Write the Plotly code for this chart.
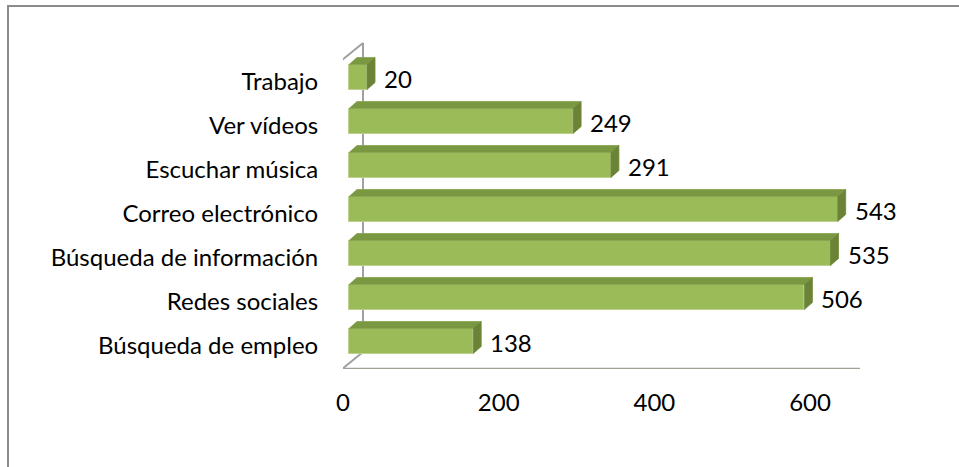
import plotly.graph_objects as go

# ---- data ----
categories = ["Búsqueda de empleo", "Redes sociales", "Búsqueda de información",
              "Correo electrónico", "Escuchar música", "Ver vídeos", "Trabajo"]
values = [138, 506, 535, 543, 291, 249, 20]
tick_values = [0, 200, 400, 600]
tick_labels = ["0", "200", "400", "600"]

# ---- geometry (pixels) ----
W, H = 959, 467
L, R, T, B = 343, 59, 30, 98
PW = W - L - R
PH = H - T - B

X_PX_PER = (810 - 343) / 600.0          # front-plane axis scale
BAR_PX_PER = 0.9                         # bar-plane scale (perspective)
BAR_X0 = 349
ROW = 44.0
Y0_PX = 346.0

x_range = [0, PW / X_PX_PER]
x2_start = -(BAR_X0 - L) / BAR_PX_PER
x2_range = [x2_start, x2_start + PW / BAR_PX_PER]
y_range = [(Y0_PX - (H - B)) / ROW, (Y0_PX - T) / ROW]


def xp(px):
    return (px - L) / X_PX_PER


def yp(py):
    return (Y0_PX - py) / ROW


def paper_x(px):
    return (px - L) / PW


def paper_y(py):
    return (H - B - py) / PH


FONT = "Lato"
FS = 24

bar_off = 5 / ROW
bar_w = 25 / ROW
dxu = 8 / BAR_PX_PER
dyu = 7 / ROW

pos = list(range(len(categories)))
ybar = [p + bar_off for p in pos]

fig = go.Figure()

fig.add_trace(go.Bar(
    x=values, y=ybar, orientation="h", width=bar_w,
    xaxis="x2", yaxis="y",
    marker=dict(color="#9BBB59", line=dict(color="#BDD08F", width=1)),
    hoverinfo="skip", showlegend=False,
))

top_x, top_y, side_x, side_y = [], [], [], []
for v, yc in zip(values, ybar):
    yt = yc + bar_w / 2
    yb = yc - bar_w / 2
    top_x += [0, v, v + dxu, dxu, 0, None]
    top_y += [yt, yt, yt + dyu, yt + dyu, yt, None]
    side_x += [v, v, v + dxu, v + dxu, v, None]
    side_y += [yb, yt, yt + dyu, yb + dyu, yb, None]

fig.add_trace(go.Scatter(x=top_x, y=top_y, xaxis="x2", yaxis="y", mode="lines",
                         fill="toself", fillcolor="#7A9842",
                         line=dict(color="#86A24E", width=0.8),
                         hoverinfo="skip", showlegend=False))
fig.add_trace(go.Scatter(x=side_x, y=side_y, xaxis="x2", yaxis="y", mode="lines",
                         fill="toself", fillcolor="#6A8336",
                         line=dict(color="#6F8939", width=0.8),
                         hoverinfo="skip", showlegend=False))

annotations = []
for v, yc in zip(values, ybar):
    annotations.append(dict(
        x=v, y=yc - 1.5 / ROW, xref="x2", yref="y", text=str(v),
        showarrow=False, xanchor="left", yanchor="middle", xshift=15,
        font=dict(family=FONT, size=FS, color="#000000"),
    ))

wall = "#A0A0A0"
shapes = [
    # outer chart border
    dict(type="path", xref="paper", yref="paper",
         path=f"M {paper_x(8)},{paper_y(470)} L {paper_x(8)},{paper_y(6)} L {paper_x(962)},{paper_y(6)}",
         line=dict(color="#8C8C8C", width=2)),
    # front-left wall edge
    dict(type="line", xref="x", yref="y", x0=xp(342), x1=xp(342), y0=yp(369), y1=yp(60),
         line=dict(color=wall, width=2), layer="below"),
    # back wall edge
    dict(type="line", xref="x", yref="y", x0=xp(363), x1=xp(363), y0=yp(352), y1=yp(43),
         line=dict(color=wall, width=2), layer="below"),
    # top diagonal
    dict(type="line", xref="x", yref="y", x0=xp(342), x1=xp(363), y0=yp(60), y1=yp(43),
         line=dict(color=wall, width=2), layer="below"),
    # bottom diagonal
    dict(type="line", xref="x", yref="y", x0=xp(342), x1=xp(363), y0=yp(369), y1=yp(352),
         line=dict(color=wall, width=2), layer="below"),
    # floor front edge
    dict(type="line", xref="x", yref="y", x0=xp(342), x1=xp(860), y0=yp(369), y1=yp(369),
         line=dict(color="#A0A296", width=2.5), layer="below"),
]

fig.update_layout(
    width=W, height=H,
    margin=dict(l=L, r=R, t=T, b=B, pad=0),
    paper_bgcolor="white", plot_bgcolor="white",
    bargap=0,
    font=dict(family=FONT, size=FS, color="#000000"),
    xaxis=dict(range=x_range, tickvals=tick_values, ticktext=tick_labels,
               showgrid=False, zeroline=False, showline=False,
               ticks="outside", ticklen=12, tickcolor="rgba(0,0,0,0)",
               tickfont=dict(family=FONT, size=FS, color="#000000"), fixedrange=True),
    xaxis2=dict(range=x2_range, overlaying="x", visible=False, fixedrange=True),
    yaxis=dict(range=y_range, tickvals=pos, ticktext=categories,
               showgrid=False, zeroline=False, showline=False,
               ticks="outside", ticklen=19, tickcolor="rgba(0,0,0,0)",
               tickfont=dict(family=FONT, size=FS, color="#000000"), fixedrange=True),
    shapes=shapes,
    annotations=annotations,
)

fig.write_html(
    "out.html",
    config={"displayModeBar": False},
    post_script="document.body.style.margin='0';document.body.style.overflow='hidden';",
)
